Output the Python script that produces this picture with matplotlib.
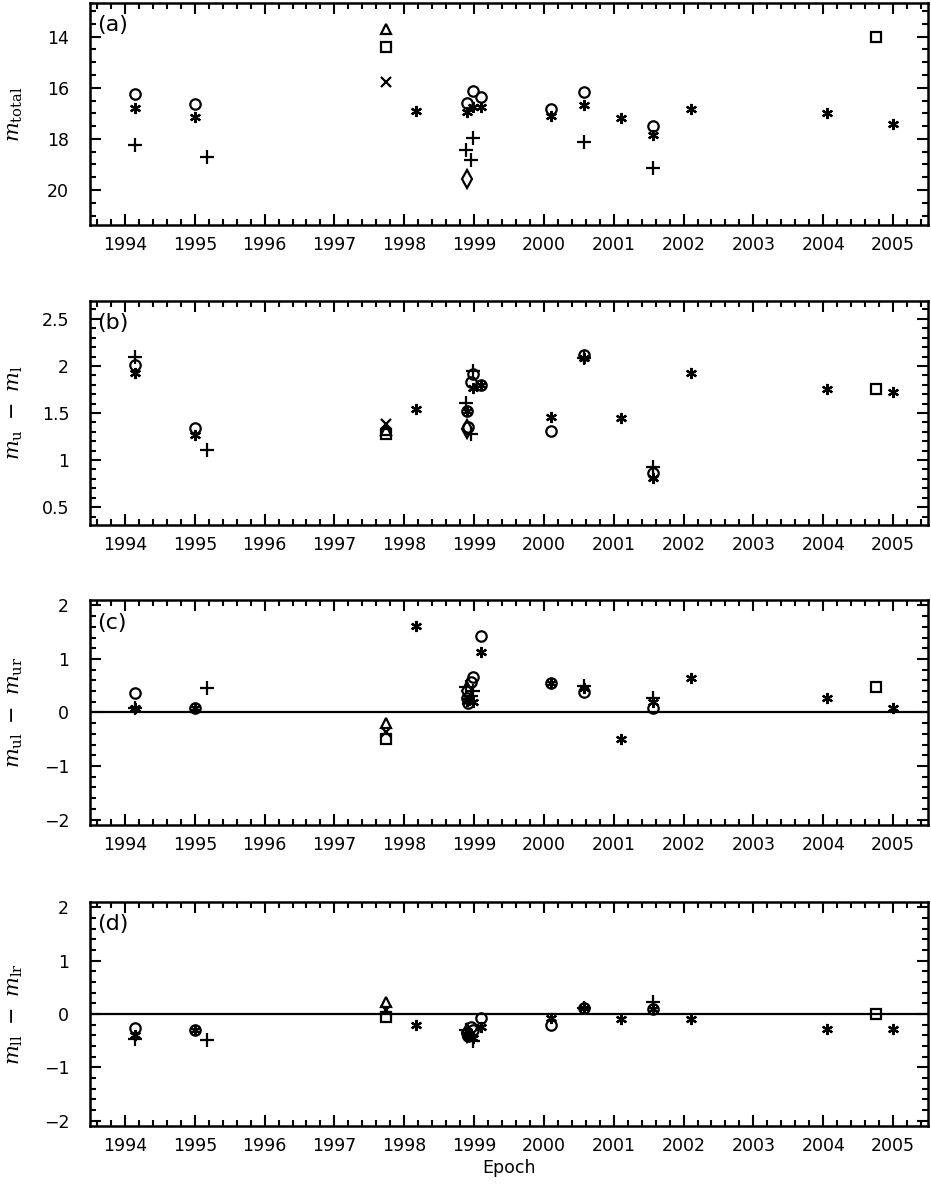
import numpy as np
import matplotlib
matplotlib.use("Agg")
import matplotlib.pyplot as plt
from matplotlib.ticker import MultipleLocator

nan = np.nan

# %% dados (epoca e valores por painel)
# circulos
circ_t = [1994.14, 1995.00, 1998.90, 1998.92, 1998.95, 1998.99, 1999.10, 2000.10, 2000.58, 2001.56]
circ_a = [16.26, 16.64, 16.61, nan, nan, 16.12, 16.35, 16.81, 16.18, 17.50]
circ_b = [2.01, 1.34, 1.52, 1.35, 1.83, 1.91, 1.80, 1.31, 2.12, 0.86]
circ_c = [0.37, 0.09, 0.27, 0.18, 0.57, 0.67, 1.43, 0.56, 0.38, 0.09]
circ_d = [-0.26, -0.30, -0.35, -0.42, -0.25, -0.30, -0.08, -0.20, 0.11, 0.10]

# asteriscos
ast_t = [1994.14, 1995.00, 1998.17, 1998.90, 1998.99, 1999.10, 2000.10, 2000.58, 2001.11, 2001.56, 2002.11, 2004.06, 2005.00]
ast_a = [16.78, 17.14, 16.91, 16.94, 16.75, 16.77, 17.11, 16.68, 17.20, 17.85, 16.81, 16.97, 17.40]
ast_b = [1.93, 1.27, 1.54, 1.52, 1.77, 1.80, 1.46, 2.08, 1.45, 0.81, 1.93, 1.75, 1.72]
ast_c = [0.09, 0.09, 1.62, 0.22, 0.20, 1.13, 0.56, 0.46, -0.49, 0.19, 0.65, 0.27, 0.09]
ast_d = [-0.39, -0.30, -0.20, -0.40, -0.45, -0.25, -0.08, 0.11, -0.10, 0.10, -0.10, -0.29, -0.29]

# cruzes (+)
plus_t = [1994.14, 1995.17, 1998.89, 1998.95, 1998.99, 2000.58, 2001.56]
plus_a = [18.22, 18.70, 18.42, 18.81, 17.95, 18.12, 19.14]
plus_b = [2.10, 1.11, 1.61, 1.28, 1.95, 2.08, 0.93]
plus_c = [0.09, 0.46, 0.47, 0.30, 0.40, 0.50, 0.28]
plus_d = [-0.47, -0.48, -0.30, -0.40, -0.50, 0.11, 0.22]

# x, triangulo, quadrado, losango
x_t = [1997.74]
x_a = [15.76]
x_b = [1.38]
x_c = [-0.36]
x_d = [0.07]

tri_t = [1997.74]
tri_a = [13.71]
tri_b = [1.32]
tri_c = [-0.19]
tri_d = [0.22]

sq_t = [1997.74, 2004.76]
sq_a = [14.39, 14.00]
sq_b = [1.28, 1.75]
sq_c = [-0.49, 0.47]
sq_d = [-0.06, 0.00]

dia_t = [1998.90]
dia_a = [19.55]
dia_b = [1.33]
dia_c = [0.40]
dia_d = [-0.35]

anos = list(range(1994, 2006))

# %% estilo
plt.rcParams["font.family"] = ["DejaVu Sans"]
plt.rcParams["mathtext.fontset"] = "dejavuserif"

series = [
    (circ_t, [circ_a, circ_b, circ_c, circ_d], dict(marker="o", ms=7.5, mfc="none")),
    (ast_t, [ast_a, ast_b, ast_c, ast_d], dict(marker=(6, 2, 0), ms=8)),
    (plus_t, [plus_a, plus_b, plus_c, plus_d], dict(marker="+", ms=10)),
    (x_t, [x_a, x_b, x_c, x_d], dict(marker="x", ms=6.5)),
    (tri_t, [tri_a, tri_b, tri_c, tri_d], dict(marker="^", ms=7.5, mfc="none")),
    (sq_t, [sq_a, sq_b, sq_c, sq_d], dict(marker="s", ms=6.5, mfc="none")),
    (dia_t, [dia_a, dia_b, dia_c, dia_d], dict(marker="d", ms=9, mfc="none")),
]

paineis = [
    ("(a)", r"$\mathbf{m_{\rm total}}$", (21.37, 12.68), 2, 0.5),
    ("(b)", r"$m_{\rm u}\ -\ m_{\rm l}$", (0.31, 2.69), 0.5, 0.1),
    ("(c)", r"$m_{\rm ul}\ -\ m_{\rm ur}$", (-2.1, 2.1), 1, 0.2),
    ("(d)", r"$m_{\rm ll}\ -\ m_{\rm lr}$", (-2.1, 2.1), 1, 0.2),
]
paineis[0] = ("(a)", r"$m_{\rm total}$", (21.37, 12.68), 2, 0.5)

# posicoes dos eixos (fracao da figura)
posicoes = [
    [0.0967, 0.8104, 0.900, 0.1871],
    [0.0967, 0.5577, 0.900, 0.1887],
    [0.0967, 0.3050, 0.900, 0.1895],
    [0.0967, 0.0514, 0.900, 0.1887],
]

fig = plt.figure(figsize=(9.31, 11.87), dpi=100)

for i, (rotulo, ylab, ylim, maj, mino) in enumerate(paineis):
    ax = fig.add_axes(posicoes[i])

    if i >= 2:
        ax.axhline(0, color="black", lw=1.6, zorder=1)

    for t, vals, estilo in series:
        ax.plot(t, vals[i], ls="none", color="black", mec="black",
                mew=1.6, zorder=3, **estilo)

    ax.set_xlim(1993.5, 2005.5)
    ax.set_ylim(*ylim)
    ax.set_xticks(anos)
    ax.xaxis.set_minor_locator(MultipleLocator(0.2))
    ax.yaxis.set_major_locator(MultipleLocator(maj))
    ax.yaxis.set_minor_locator(MultipleLocator(mino))
    if i == 1:
        ax.set_yticks([0.5, 1, 1.5, 2, 2.5])
        ax.set_yticklabels(["0.5", "1", "1.5", "2", "2.5"])

    ax.tick_params(which="both", direction="in", top=True, right=True,
                   labelsize=12.5, width=1.5, color="black")
    ax.tick_params(which="major", length=8)
    ax.tick_params(which="minor", length=4)
    ax.tick_params(axis="x", which="major", pad=8)
    ax.tick_params(axis="y", which="major", pad=15)
    for sp in ax.spines.values():
        sp.set_linewidth(1.8)

    ax.text(0.008, 0.9, rotulo, transform=ax.transAxes, fontsize=16,
            ha="left", va="center")
    ax.set_ylabel(ylab, fontsize=15)
    ax.yaxis.set_label_coords(-0.078, 0.5)

    if i == 3:
        ax.set_xlabel("Epoch", fontsize=12.5, labelpad=3)

fig.savefig("out.png", dpi=100)
